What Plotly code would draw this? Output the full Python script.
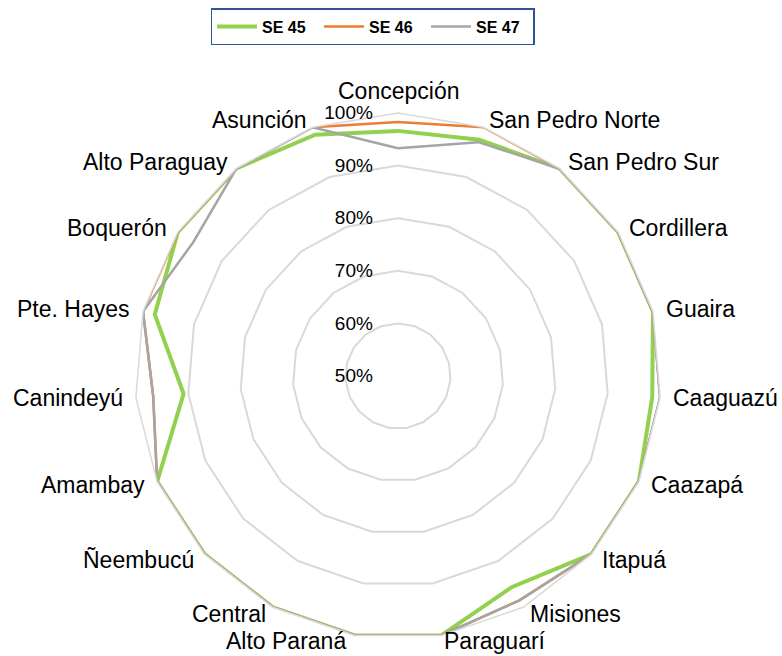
import math
import plotly.graph_objects as go

categories = ["Concepción", "San Pedro Norte", "San Pedro Sur", "Cordillera", "Guaira",
              "Caaguazú", "Caazapá", "Itapuá", "Misiones", "Paraguarí", "Alto Paraná",
              "Central", "Ñeembucú", "Amambay", "Canindeyú", "Pte. Hayes", "Boquerón",
              "Alto Paraguay", "Asunción"]

se45 = [0.966, 0.975, 1.0, 1.0, 1.0, 0.985, 1.0, 1.0, 0.956, 1.0, 1.0,
        1.0, 1.0, 1.0, 0.909, 0.977, 1.0, 1.0, 0.985]
se46 = [0.983, 1.0, 1.0, 1.0, 1.0, 1.0, 1.0, 1.0, 0.985, 1.0, 1.0,
        1.0, 1.0, 1.0, 0.967, 1.0, 1.0, 1.0, 1.0]
se47 = [0.933, 0.97, 1.0, 1.0, 1.0, 1.0, 1.0, 1.0, 0.985, 1.0, 1.0,
        1.0, 1.0, 1.0, 0.967, 1.0, 0.965, 1.0, 1.0]

series_names = ["SE 45", "SE 46", "SE 47"]
series_colors = ["#92D050", "#ED7D31", "#A5A5A5"]
series_widths = [4, 2.5, 2.5]
radial_ticks = [0.5, 0.6, 0.7, 0.8, 0.9, 1.0]

fig = go.Figure()
for name, vals, col, w in zip(series_names, [se45, se46, se47], series_colors, series_widths):
    fig.add_trace(go.Scatterpolar(
        r=vals + vals[:1], theta=categories + categories[:1],
        mode="lines", name=name, line=dict(color=col, width=w)))

W, H = 782, 656
R = 263
cx, cy = 398, 376

# category labels placed Excel-style just outside each polygon vertex
pR = 262
n = len(categories)
annotations = []
for i, name in enumerate(categories):
    th = math.radians(i * 360 / n)
    s, c = math.sin(th), math.cos(th)
    vx, vy = cx + pR * s, cy - pR * c
    if abs(s) < 0.1:
        x, xa, y = vx, "center", vy - 23
    else:
        gap = 12 if abs(s) > 0.2 else (6 if s > 0 else 40)
        x = vx + gap * s
        xa = "left" if s > 0 else "right"
        y = min(vy - 9 * c, 641)
    annotations.append(dict(text=name, x=x / W, y=1 - y / H, xref="paper", yref="paper",
                            xanchor=xa, yanchor="middle", showarrow=False,
                            font=dict(size=23, color="#000000")))

fig.update_layout(
    width=W, height=H,
    margin=dict(l=0, r=0, t=0, b=0),
    paper_bgcolor="white",
    font=dict(family="Liberation Sans, Arial, sans-serif", color="#000000"),
    showlegend=True,
    legend=dict(orientation="h", x=372.5 / W, xanchor="center", y=1 - 8 / H, yanchor="top",
                bordercolor="#2F5597", borderwidth=1.5,
                font=dict(size=16, family="Liberation Sans, Arial, sans-serif", weight="bold"),
                itemwidth=40, entrywidth=52, entrywidthmode="pixels", tracegroupgap=0),
    annotations=annotations,
    polar=dict(
        domain=dict(x=[(cx - R) / W, (cx + R) / W], y=[(H - cy - R) / H, (H - cy + R) / H]),
        bgcolor="white",
        gridshape="linear",
        angularaxis=dict(direction="clockwise", rotation=90, showgrid=False,
                         showline=True, linecolor="#D9D9D9", linewidth=1.5,
                         ticks="", showticklabels=False),
        radialaxis=dict(range=[0.5, 1.0], tickvals=radial_ticks, tickformat=".0%",
                        angle=90, tickangle=90, side="counterclockwise",
                        showline=False, ticks="outside", ticklen=18,
                        tickcolor="rgba(0,0,0,0)",
                        gridcolor="#D9D9D9", gridwidth=1.5,
                        tickfont=dict(size=19)),
    ),
)
fig.write_html("out.html", config={"displayModeBar": False},
               post_script="document.body.style.margin='0';")
